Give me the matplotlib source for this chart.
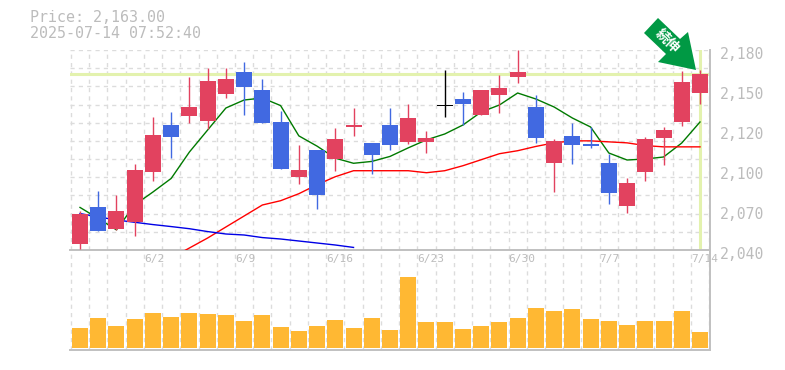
import matplotlib
matplotlib.use('Agg')
import matplotlib.pyplot as plt
from matplotlib.patches import Polygon
from matplotlib.transforms import IdentityTransform, ScaledTranslation
import numpy as np

# everything below, prices in yen
date_pos = [4, 9, 14, 19, 24, 29, 34]
date_labels = ['6/2', '6/9', '6/16', '6/23', '6/30', '7/7', '7/14']
price_ticks = [2180, 2152, 2124, 2096, 2068, 2040]
price_labels = ['2,180', '2,150', '2,120', '2,100', '2,070', '2,040']

body_top = [2065.5, 2070.1, 2067.3, 2096.0, 2120.5, 2127.4, 2140.3, 2158.6, 2160.0, 2164.9,
            2152.0, 2129.3, 2096.0, 2110.0, 2117.8, 2127.6, 2114.8, 2127.6, 2132.2, 2118.1,
            2141.4, 2145.7, 2152.0, 2153.4, 2164.5, 2140.0, 2116.3, 2119.8, 2114.2, 2101.1,
            2086.6, 2118.0, 2123.9, 2157.6, 2163.2]
body_bottom = [2044.2, 2053.3, 2054.7, 2059.6, 2094.6, 2119.4, 2133.7, 2130.6, 2149.5, 2154.4,
               2129.1, 2096.9, 2091.1, 2078.5, 2103.8, 2126.2, 2106.4, 2113.6, 2115.4, 2115.3,
               2140.6, 2142.2, 2134.5, 2148.5, 2161.0, 2118.3, 2101.1, 2113.5, 2112.8, 2080.1,
               2070.5, 2094.9, 2118.3, 2129.6, 2149.9]
wick_high = [2067.4, 2081.3, 2078.8, 2100.2, 2133.1, 2136.5, 2161.0, 2167.6, 2167.6, 2171.4,
             2159.7, 2137.3, 2113.5, 2110.0, 2125.5, 2139.5, 2114.8, 2139.5, 2142.0, 2123.0,
             2166.3, 2150.6, 2152.0, 2162.5, 2180.0, 2148.4, 2117.7, 2128.9, 2126.1, 2107.4,
             2090.1, 2119.0, 2126.0, 2165.3, 2166.0]
wick_low = [2040.5, 2053.3, 2054.0, 2049.8, 2088.3, 2104.6, 2128.8, 2124.9, 2146.7, 2134.8,
            2129.1, 2096.9, 2086.2, 2068.7, 2095.4, 2119.9, 2093.1, 2110.1, 2114.0, 2107.6,
            2133.1, 2127.5, 2134.5, 2135.9, 2156.8, 2114.8, 2080.6, 2100.2, 2111.4, 2072.4,
            2065.6, 2088.6, 2099.5, 2126.8, 2142.2]
candle_kind = ['r', 'b', 'r', 'r', 'r', 'b', 'r', 'r', 'r', 'b',
               'b', 'b', 'r', 'b', 'r', 'r', 'b', 'b', 'r', 'r',
               'k', 'b', 'r', 'r', 'r', 'b', 'r', 'b', 'b', 'b',
               'r', 'r', 'r', 'r', 'r']

ma_short = [2069.8, 2062.1, 2054.1, 2071.6, 2080.6, 2090.1, 2108.6, 2124.0, 2139.4, 2145.0,
            2146.4, 2141.1, 2119.9, 2112.7, 2104.3, 2100.7, 2102.0, 2105.5, 2111.5, 2117.1,
            2121.2, 2127.5, 2136.6, 2141.5, 2149.9, 2145.7, 2140.1, 2132.4, 2126.1, 2107.9,
            2103.0, 2103.7, 2105.1, 2114.9, 2129.6]
ma_mid_start = 5
ma_mid = [2034.4, 2041.4, 2048.4, 2056.1, 2063.8, 2071.5, 2074.5, 2079.4, 2085.7, 2091.3,
          2095.5, 2095.5, 2095.5, 2095.5, 2094.1, 2095.5, 2099.0, 2103.2, 2107.4, 2109.5,
          2112.5, 2115.0, 2116.4, 2116.4, 2115.7, 2115.0, 2113.1, 2112.2, 2112.2, 2112.2]
ma_long = [2065.5, 2063.2, 2061.0, 2059.4, 2057.8, 2056.4, 2054.9, 2052.9, 2051.2, 2050.5,
           2048.7, 2047.7, 2046.3, 2044.9, 2043.5, 2041.8]
volume = [20, 30, 22, 29, 35, 31, 35, 34, 33, 27, 33, 21, 17, 22, 28, 20, 30, 18,
          71, 26, 26, 19, 22, 26, 30, 40, 37, 39, 29, 27, 23, 27, 27, 37, 16]
last_price = 2163

W, H = 785, 370
x_min = -10 / 18.235
x_max = 34 + 10 / 18.235
grey = '#bcbcbc'
grid_col = '#dcdcdc'
red = '#e2425f'
blue = '#4169e1'
hl = '#e3f2ae'
mono = 'DejaVu Sans Mono'

fig = plt.figure(figsize=(W / 100, H / 100), dpi=100)
ax = fig.add_axes([70 / W, 1 - 250 / H, 640 / W, 200 / H])
axv = fig.add_axes([70 / W, 1 - 350 / H, 640 / W, 100 / H])
x = np.arange(len(volume))

for a in (ax, axv):
    a.set_xlim(x_min, x_max)
    for v in np.arange(-0.5, 35):
        a.axvline(v, color=grid_col, lw=1, ls=(0, (3, 3)), zorder=1)
    for s in ('top', 'left'):
        a.spines[s].set_visible(False)
    for s in ('right', 'bottom'):
        a.spines[s].set_color('#c0c0c0')
        a.spines[s].set_linewidth(1.4)
    a.tick_params(length=0)
    a.set_facecolor('none')

ax.set_ylim(2040, 2180)
for v in np.linspace(2040, 2180, 12):
    ax.axhline(v, color=grid_col, lw=1, ls=(0, (3, 3)), zorder=1)

ax.axhline(last_price, color=hl, lw=2.2, zorder=2)
ax.axvline(34, color=hl, lw=2.2, zorder=2)

ax.plot(x, ma_short, color='#007a00', lw=1, zorder=3)
ax.plot(np.arange(len(ma_mid)) + ma_mid_start, ma_mid, color='#ff0000', lw=1, zorder=3)
ax.plot(np.arange(len(ma_long)), ma_long, color='#0000e6', lw=1, zorder=3)

kinds = {'r': red, 'b': blue, 'k': '#000000'}
for i in range(len(x)):
    c = kinds[candle_kind[i]]
    ax.vlines(i, wick_low[i], wick_high[i], color=c, lw=1, zorder=4)
    ax.bar(i, body_top[i] - body_bottom[i], bottom=body_bottom[i], width=16 / 18.235,
           color=c, lw=0, zorder=5)

ax.set_xticks([])
ax.yaxis.tick_right()
ax.set_yticks(price_ticks)
ax.set_yticklabels(price_labels, family=mono, fontsize=10.6, color=grey)
ax.tick_params(axis='y', pad=7)
for lab in ax.get_yticklabels():
    lab.set_transform(lab.get_transform() + ScaledTranslation(0, -3 / 100, fig.dpi_scale_trans))

axv.bar(x, volume, width=16 / 18.235, color='#ffb833', lw=0, zorder=3)
axv.set_ylim(-2, 98)
axv.set_yticks([])
axv.set_xticks([])
# date labels start on the gridline left of their candle
for p, d in zip(date_pos, date_labels):
    axv.text(p - 0.5, 89, d, family=mono, fontsize=8, color=grey, ha='left', va='center')

fig.text(30 / W, 1 - 18 / H, 'Price: 2,163.00', family=mono, fontsize=10.8, color=grey, va='center')
fig.text(30 / W, 1 - 33 / H, '2025-07-14 07:52:40', family=mono, fontsize=10.8, color=grey, va='center')

# signal arrow, outline in pixels from the top left corner of the picture
arrow_px = [(644, 33), (658, 18), (680, 39), (688, 32), (696, 70), (658, 62), (666, 54)]
fig.add_artist(Polygon([(px, H - py) for px, py in arrow_px], closed=True, facecolor='#009944',
                       edgecolor='none', transform=IdentityTransform(), zorder=8))
fig.text(667 / W, 1 - 41 / H, '続伸', family=['Noto Sans CJK JP', 'DejaVu Sans'], fontsize=10,
         fontweight='bold', color='white', rotation=-45, rotation_mode='anchor',
         ha='center', va='center', zorder=9)

fig.savefig('out.png', dpi=100)
